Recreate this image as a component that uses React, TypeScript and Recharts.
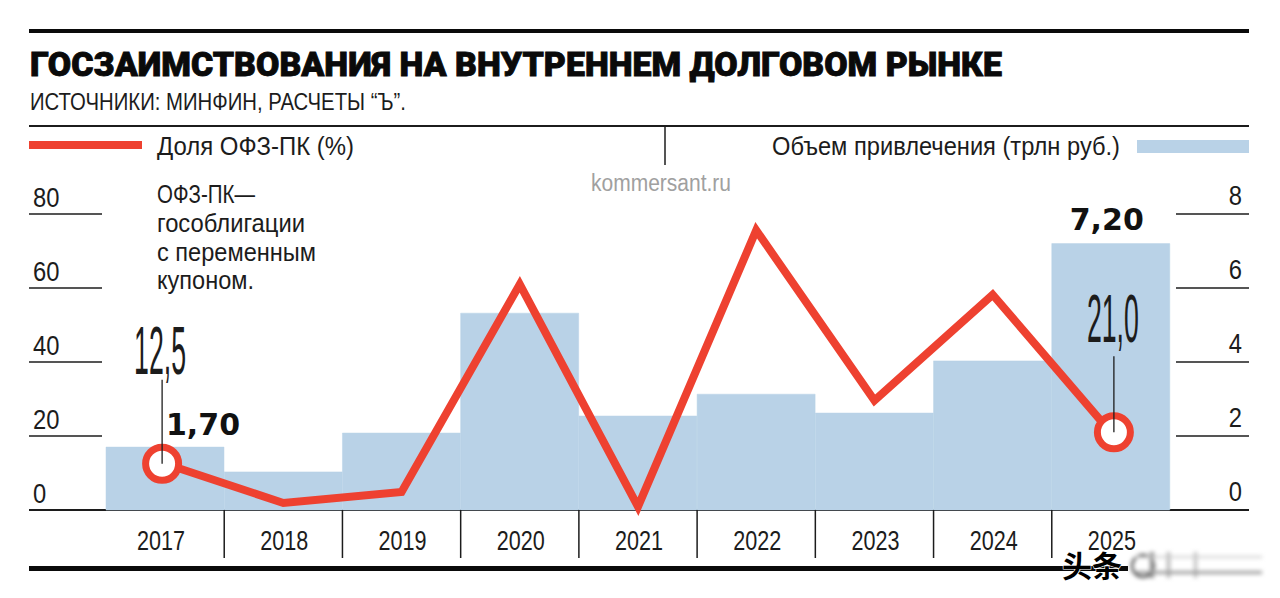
import { Bar, ComposedChart, LabelList, Line, XAxis, YAxis } from "recharts"

const years = ["2017", "2018", "2019", "2020", "2021", "2022", "2023", "2024", "2025"]
const volume = [1.7, 1.03, 2.08, 5.32, 2.54, 3.13, 2.62, 4.03, 7.2]
const share = [12.5, 1.9, 4.9, 61, 0.9, 75.6, 29.6, 58.2, 21.0]
const shareTicks = [0, 20, 40, 60, 80]
const volumeTicks = [0, 2, 4, 6, 8]
const noteLines = ["ОФЗ-ПК—", "гособлигации", "с переменным", "купоном."]
const noteWidths = [98, 148, 159, 97]

const data = years.map((year, i) => ({ year, volume: volume[i], share: share[i] }))

const RED = "#ee4130"
const BLUE = "#b9d2e7"
const INK = "#1c1c1c"
const SANS = "'Liberation Sans', sans-serif"

function LeftTick({ y, payload }: any) {
  return (
    <g>
      <line x1={29} x2={102} y1={y} y2={y} stroke={INK} strokeWidth={1.5} />
      <text transform={`translate(33 ${y - 7}) scale(0.88 1)`} fontFamily={SANS} fontSize={27} fill={INK}>{payload.value}</text>
    </g>
  )
}

function RightTick({ y, payload }: any) {
  return (
    <g>
      <line x1={1176} x2={1249} y1={y} y2={y} stroke={INK} strokeWidth={1.5} />
      <text transform={`translate(1242 ${y - 9}) scale(0.88 1)`} textAnchor="end" fontFamily={SANS} fontSize={27} fill={INK}>{payload.value}</text>
    </g>
  )
}

function YearTick({ x, y, payload, index }: any) {
  const half = 1064 / years.length / 2
  const labelX = index === 0 ? x - 4 : x + 1
  return (
    <g>
      {index > 0 && <line x1={x - half} x2={x - half} y1={510} y2={558} stroke={INK} strokeWidth={1.5} />}
      <text transform={`translate(${labelX} ${y + 34}) scale(0.8 1)`} textAnchor="middle" fontFamily={SANS} fontSize={27} fill={INK}>{payload.value}</text>
    </g>
  )
}

function ShareDot({ cx, cy, index, value }: any) {
  if (index !== 0 && index !== years.length - 1) return <g key={index} />
  const label = (Array.isArray(value) ? value[1] : value).toFixed(1).replace(".", ",")
  const first = index === 0
  const ringX = first ? cx - 3 : cx + 3
  return (
    <g key={index}>
      <circle cx={ringX} cy={cy} r={16.5} fill="#fff" stroke={RED} strokeWidth={7} />
      <line x1={ringX} x2={ringX} y1={first ? cy - 84 : cy - 76} y2={cy} stroke={INK} strokeWidth={1.3} />
      <text
        x={first ? cx - 31 : cx - 24}
        y={cy - 90}
        fontFamily={SANS}
        fontSize={68}
        textLength={52}
        lengthAdjust="spacingAndGlyphs"
        fill={INK}
      >
        {label}
      </text>
    </g>
  )
}

function VolumeLabel({ x, y, width, value, index }: any) {
  if (index !== 0 && index !== years.length - 1) return null
  const first = index === 0
  return (
    <text
      x={x + width / 2 + (first ? 38 : -4)}
      y={first ? y - 12 : y - 14}
      textAnchor="middle"
      fontFamily="'DejaVu Sans', sans-serif"
      fontWeight={700}
      fontSize={30}
      fill="#111"
    >
      {value.toFixed(2).replace(".", ",")}
    </text>
  )
}

function Furniture() {
  return (
    <svg width={1280} height={598} style={{ position: "absolute", left: 0, top: 0 }}>
      <rect x={29} y={29} width={1220} height={4} fill="#0a0a0a" />
      <text x={30} y={76} fontFamily="Roboto, sans-serif" fontWeight={900} fontSize={34} stroke="#0a0a0a" strokeWidth={0.9} textLength={972} lengthAdjust="spacingAndGlyphs" fill="#0a0a0a">
        ГОСЗАИМСТВОВАНИЯ НА ВНУТРЕННЕМ ДОЛГОВОМ РЫНКЕ
      </text>
      <text x={30} y={110} fontFamily={SANS} fontSize={24} textLength={376} lengthAdjust="spacingAndGlyphs" fill={INK}>
        ИСТОЧНИКИ: МИНФИН, РАСЧЕТЫ “Ъ”.
      </text>
      <rect x={29} y={125} width={1220} height={2} fill={INK} />
      <line x1={665} x2={665} y1={126} y2={165} stroke={INK} strokeWidth={1.5} />

      <rect x={29} y={141} width={113} height={8} fill={RED} />
      <text x={157} y={155} fontFamily={SANS} fontSize={25} textLength={197} lengthAdjust="spacingAndGlyphs" fill={INK}>Доля ОФЗ-ПК (%)</text>
      <text x={772} y={155} fontFamily={SANS} fontSize={25} textLength={348} lengthAdjust="spacingAndGlyphs" fill={INK}>Объем привлечения (трлн руб.)</text>
      <rect x={1137} y={140} width={112} height={13} fill={BLUE} />

      <text x={591} y={191} fontFamily={SANS} fontSize={23} textLength={140} lengthAdjust="spacingAndGlyphs" fill="#a0a0a0">kommersant.ru</text>

      {noteLines.map((line, i) => (
        <text key={line} x={157} y={203 + i * 28.8} fontFamily={SANS} fontSize={25} textLength={noteWidths[i]} lengthAdjust="spacingAndGlyphs" fill={INK}>{line}</text>
      ))}

      <rect x={29} y={509} width={1220} height={2} fill={INK} />
      <rect x={29} y={566} width={1220} height={5} fill="#0a0a0a" />
    </svg>
  )
}

function Watermark() {
  return (
    <svg width={1280} height={598} style={{ position: "absolute", left: 0, top: 0 }}>
      <rect x={1128} y={552} width={140} height={30} fill="#fff" />
      <text x={1062} y={577} fontFamily="'Noto Sans CJK SC', sans-serif" fontWeight={700} fontSize={30} fill="#000" stroke="#fff" strokeWidth={1.2} paintOrder="stroke">头条</text>
      <g style={{ filter: "blur(2px)" }}>
        <circle cx={1143} cy={566} r={11} fill="none" stroke="#333" strokeWidth={2} />
        <rect x={1150} y={552} width={4} height={26} fill="#888" />
        <rect x={1167} y={552} width={3} height={26} fill="#aaa" />
        <rect x={1194} y={552} width={3} height={26} fill="#bbb" />
        <rect x={1135} y={556} width={127} height={2} fill="#ccc" />
        <rect x={1135} y={571} width={127} height={3} fill="#999" />
      </g>
    </svg>
  )
}

export default function App() {
  return (
    <div style={{ position: "absolute", left: 0, top: 0, width: 1280, height: 598, background: "#fff" }}>
      <Furniture />
      <div style={{ position: "absolute", left: 0, top: 0 }}>
        <ComposedChart
          width={1280}
          height={598}
          data={data}
          barCategoryGap={0}
          margin={{ top: 214, right: 0, bottom: 0, left: 0 }}
        >
          <XAxis dataKey="year" height={88} axisLine={false} tickLine={false} tickMargin={0} tick={<YearTick />} interval={0} />
          <YAxis yAxisId="share" width={106} domain={[0, 80]} ticks={shareTicks} axisLine={false} tickLine={false} tick={<LeftTick />} />
          <YAxis yAxisId="volume" orientation="right" width={110} domain={[0, 8]} ticks={volumeTicks} axisLine={false} tickLine={false} tick={<RightTick />} />
          <Bar yAxisId="volume" dataKey="volume" fill={BLUE} stroke={BLUE} strokeWidth={0.5} isAnimationActive={false}>
            <LabelList dataKey="volume" content={<VolumeLabel />} />
          </Bar>
          <Line
            yAxisId="share"
            dataKey="share"
            stroke={RED}
            strokeWidth={8}
            strokeLinejoin="miter"
            type="linear"
            dot={<ShareDot />}
            activeDot={false}
            isAnimationActive={false}
          />
        </ComposedChart>
      </div>
      <Watermark />
    </div>
  )
}
